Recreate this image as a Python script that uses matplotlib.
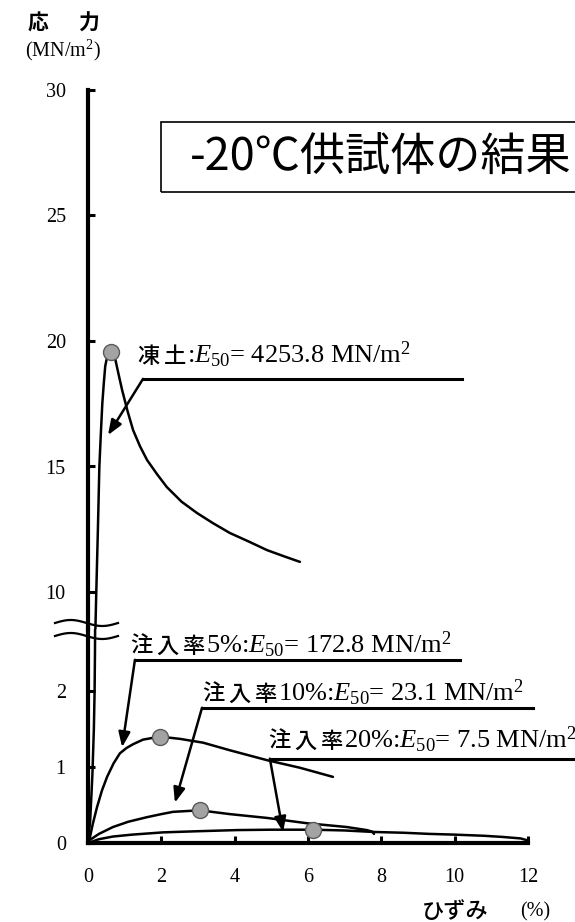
import numpy as np
import matplotlib
matplotlib.use("Agg")
import matplotlib.pyplot as plt
from matplotlib.patches import Rectangle

plt.rcParams['mathtext.fontset'] = 'custom'
plt.rcParams['mathtext.rm'] = 'Liberation Serif'
plt.rcParams['mathtext.it'] = 'Liberation Serif:italic'
plt.rcParams['mathtext.bf'] = 'Liberation Serif:bold'
plt.rcParams['mathtext.default'] = 'it'

CJK = ['Noto Sans CJK JP', 'DejaVu Sans']
SERIF = ['Liberation Serif', 'DejaVu Serif']

# ---------------- data ----------------
frozen_x = [0, 0.06, 0.12, 0.16, 0.18, 0.19, 0.195, 0.20, 0.226, 0.27, 0.31, 0.35, 0.39, 0.43,
            0.47, 0.52, 0.57, 0.63, 0.68, 0.74, 0.83, 0.93, 1.08, 1.23, 1.42, 1.61, 1.88,
            2.15, 2.55, 2.97, 3.40, 3.87, 4.40, 4.88, 5.35, 5.78]
frozen_y = [0, 0.3, 0.9, 1.5, 2.0, 2.5, 2.9, 8.4, 10.0, 12.5, 15.0, 16.3, 17.5, 18.3,
            19.0, 19.35, 19.5, 19.55, 19.5, 19.3, 18.7, 18.05, 17.2, 16.45, 15.8, 15.26, 14.7,
            14.18, 13.6, 13.15, 12.75, 12.35, 12.0, 11.67, 11.42, 11.2]
frozen_peak = (0.63, 19.55)

p5_x = [0, 0.055, 0.13, 0.245, 0.38, 0.52, 0.70, 0.87, 1.05, 1.23, 1.50, 1.96, 2.51, 3.14,
        3.87, 4.88, 5.78, 6.68]
p5_y = [0, 0.08, 0.25, 0.47, 0.69, 0.87, 1.05, 1.18, 1.25, 1.30, 1.36, 1.40, 1.37, 1.32,
        1.22, 1.09, 0.99, 0.87]
p5_peak = (1.96, 1.40)

p10_x = [0, 0.05, 0.30, 0.68, 1.10, 1.61, 2.00, 2.32, 3.05, 3.87, 4.88, 5.97, 7.06, 7.60,
         7.75, 7.80]
p10_y = [0, 0.04, 0.12, 0.21, 0.28, 0.34, 0.38, 0.41, 0.43, 0.38, 0.33, 0.26, 0.21, 0.17,
         0.15, 0.12]
p10_peak = (3.05, 0.43)

p20_x = [0, 0.30, 0.68, 1.20, 2.05, 3.00, 4.06, 5.00, 6.14, 7.00, 7.80, 8.60, 9.30, 10.0,
         10.8, 11.3, 11.8, 11.95]
p20_y = [0, 0.05, 0.085, 0.11, 0.14, 0.155, 0.17, 0.175, 0.175, 0.165, 0.145, 0.135, 0.12,
         0.11, 0.095, 0.08, 0.06, 0.04]
p20_peak = (6.14, 0.17)

x_ticks = [0, 2, 4, 6, 8, 10, 12]
upper_ticks = [10, 15, 20, 25, 30]
lower_ticks = [0, 1, 2]

labels = {
    'frozen': ('凍土', ':$E_{50}$= 4253.8 MN/m$^{\\mathrm{2}}$'),
    'p5': ('注入率', '5%:$E_{50}$= 172.8 MN/m$^{\\mathrm{2}}$'),
    'p10': ('注入率', '10%:$E_{50}$= 23.1 MN/m$^{\\mathrm{2}}$'),
    'p20': ('注入率', '20%:$E_{50}$= 7.5 MN/m$^{\\mathrm{2}}$'),
}
title = '-20℃供試体の結果'

# ---------------- figure ----------------
W, H = 575, 922
fig = plt.figure(figsize=(W / 100, H / 100), dpi=100)

def fx(px):
    return px / W

def fy(py):
    return 1 - py / H

ax_left = fx(88)
ax_w = fx(528) - fx(88)
brk = 629
ax_up = fig.add_axes([ax_left, fy(brk), ax_w, fy(90) - fy(brk)])
ax_lo = fig.add_axes([ax_left, fy(843), ax_w, fy(brk) - fy(843)])

ax_up.set_ylim(30 - (brk - 90) / 25.1, 30)
ax_lo.set_ylim(0, (843 - brk) / 76.0)
for a in (ax_up, ax_lo):
    a.set_xlim(0, 12)
    a.patch.set_visible(False)
    for s in ('top', 'right'):
        a.spines[s].set_visible(False)
    a.spines['left'].set_linewidth(3)
    a.tick_params(direction='in', length=5, width=2.2, labelsize=14.5, pad=16)

ax_up.spines['bottom'].set_visible(False)
ax_up.tick_params(axis='x', bottom=False, labelbottom=False)
ax_lo.spines['bottom'].set_linewidth(3)
ax_lo.tick_params(axis='x', pad=18)
ax_up.set_yticks(upper_ticks)
ax_lo.set_yticks(lower_ticks)
ax_lo.set_xticks(x_ticks)
for a in (ax_up, ax_lo):
    for lab in a.get_yticklabels() + a.get_xticklabels():
        lab.set_family(SERIF)
        lab.set_fontsize(14.5)

line_kw = dict(color='black', lw=1.8, solid_capstyle='round')
mk_kw = dict(marker='o', ms=11.5, mfc='#a3a3a3', mec='#5a5a5a', mew=1.0, ls='none',
             zorder=6, clip_on=False)

for a in (ax_up, ax_lo):
    a.plot(frozen_x, frozen_y, **line_kw)
ax_up.plot(*frozen_peak, **mk_kw)
ax_lo.plot(p5_x, p5_y, **line_kw)
ax_lo.plot(p10_x, p10_y, **line_kw)
ax_lo.plot(p20_x, p20_y, **line_kw)
ax_lo.plot(*p5_peak, **mk_kw)
ax_lo.plot(*p10_peak, **mk_kw)
ax_lo.plot(*p20_peak, **mk_kw)

# leader lines + arrows
arrow_kw = dict(arrowstyle='-|>,head_length=0.9,head_width=0.35', color='black', lw=1.8,
                shrinkA=0, shrinkB=0)

def leader(ax, x_right, x_corner, y_line, tip):
    ax.plot([x_right, x_corner], [y_line, y_line], color='black', lw=2.2, clip_on=False)
    ax.annotate('', xy=tip, xytext=(x_corner, y_line), arrowprops=arrow_kw,
                annotation_clip=False)

leader(ax_up, 10.2, 1.50, 18.49, (0.545, 16.25))
leader(ax_lo, 10.14, 1.28, 2.41, (0.93, 1.26))
leader(ax_lo, 12.14, 3.11, 1.78, (2.37, 0.53))
leader(ax_lo, 13.6, 4.96, 1.11, (5.32, 0.145))

# rich text labels
fig.canvas.draw()
renderer = fig.canvas.get_renderer()
inv = fig.transFigure.inverted()

def rich(ax, x, y, cjk, rest, cjk_size=16, rest_size=19, gap=4):
    xd, yd = ax.transData.transform((x, y))
    cur = xd
    for ch in cjk:
        px, py = inv.transform((cur, yd))
        t = fig.text(px, py, ch, ha='left', va='baseline', family=CJK, fontsize=cjk_size,
                     fontweight='medium')
        cur = t.get_window_extent(renderer).x1 + gap
    px, py = inv.transform((cur - gap + 1, yd))
    fig.text(px, py, rest, ha='left', va='baseline', family=SERIF, fontsize=rest_size)

rich(ax_up, 1.34, 19.12, *labels['frozen'])
rich(ax_lo, 1.15, 2.50, *labels['p5'])
rich(ax_lo, 3.11, 1.87, *labels['p10'])
rich(ax_lo, 4.91, 1.25, *labels['p20'])

# title box
fig.patches.append(Rectangle((fx(161), fy(192)), fx(700) - fx(161), fy(122) - fy(192),
                             transform=fig.transFigure, fill=False, ec='black', lw=1.2))
fig.text(fx(190), fy(158), title, ha='left', va='center', family=CJK, fontsize=32.5)

# axis labels
fig.text(fx(38), fy(23), '応', ha='center', va='center', family=CJK, fontsize=15,
         fontweight='bold')
fig.text(fx(89), fy(23), '力', ha='center', va='center', family=CJK, fontsize=15,
         fontweight='bold')
fig.text(fx(63), fy(50), '(MN/m$^{\\mathrm{2}}$)', ha='center', va='center', family=SERIF,
         fontsize=14.5)
fig.text(fx(455), fy(911), 'ひずみ', ha='center', va='center', family=CJK, fontsize=16,
         fontweight='medium')
fig.text(fx(535), fy(912), '(%)', ha='center', va='center', family=SERIF, fontsize=14.5)

# axis break marks
t = np.linspace(0, 1, 60)
for yb in (623, 636):
    xs = fx(55) + (fx(118) - fx(55)) * t
    ys = fy(yb) + (3.0 / H) * np.sin(2 * np.pi * t)
    fig.add_artist(plt.Line2D(xs, ys, color='black', lw=1.6, transform=fig.transFigure))

fig.savefig('out.png', dpi=100)
